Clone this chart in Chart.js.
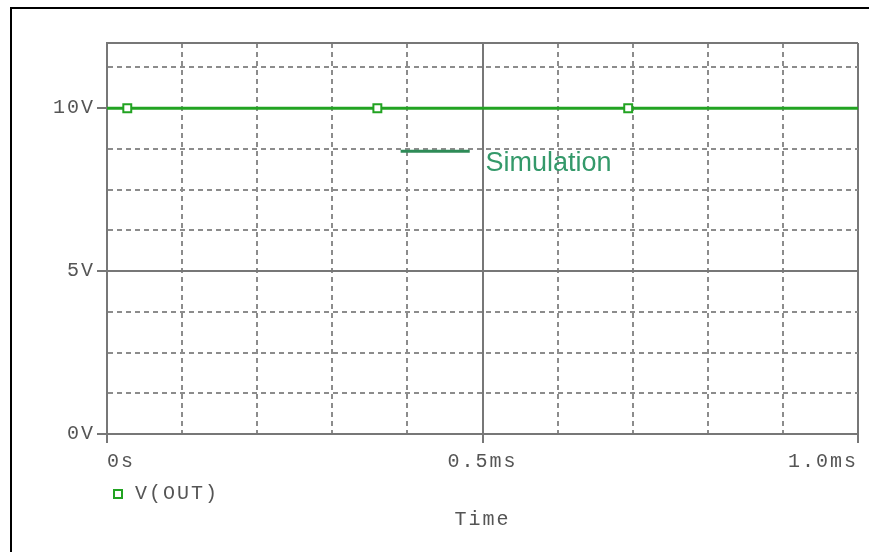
<!DOCTYPE html>
<html>
<head>
<meta charset="utf-8">
<script src="https://cdn.jsdelivr.net/npm/chart.js"></script>
<style>
  html, body { margin: 0; padding: 0; background: #fff; overflow: hidden; }
  #frame { position: absolute; left: 10px; top: 7px; width: 900px; height: 600px; border: 2px solid #000; }
  #chart { position: absolute; left: 0; top: 0; }
</style>
</head>
<body>
<div id="frame"></div>
<canvas id="chart" width="869" height="552"></canvas>
<script>
// trace V(OUT), time in ms
const lineTime = [0, 1.0];
const lineVolts = [10, 10];
const markerTime = [0.027, 0.36, 0.694];
const markerVolts = [10, 10, 10];

const xTicks = [0, 0.1, 0.2, 0.3, 0.4, 0.5, 0.6, 0.7, 0.8, 0.9, 1.0];
const xTickLabels = ['0s', '', '', '', '', '0.5ms', '', '', '', '', '1.0ms'];
const yTicks = [0, 1.25, 2.5, 3.75, 5, 6.25, 7.5, 8.75, 10, 11.25, 12];
const yTickLabels = ['0V', '', '', '', '5V', '', '', '', '10V', '', ''];

// "Simulation" note inside the plot
const noteLineX = [0.391, 0.483];
const noteLineY = 8.68;
const noteText = 'Simulation';
const noteTextX = 0.504;
const noteTextY = 8.06;

const green = '#22a322';
const mono = { family: '"Liberation Mono", "DejaVu Sans Mono", monospace', size: 20, weight: 'normal' };

const xSolid = i => xTickLabels[i] !== '';
const ySolid = i => yTickLabels[i] !== '' || i === yTicks.length - 1;

const spacing = {
  id: 'spacing',
  beforeUpdate(chart) { chart.ctx.letterSpacing = '2px'; },
  beforeDraw(chart) { chart.ctx.letterSpacing = '2px'; }
};

const note = {
  id: 'note',
  afterDatasetsDraw(chart) {
    const { ctx, scales: { x, y } } = chart;
    ctx.save();
    ctx.letterSpacing = '0px';
    ctx.strokeStyle = '#2e8b57';
    ctx.lineWidth = 3;
    ctx.beginPath();
    ctx.moveTo(x.getPixelForValue(noteLineX[0]), y.getPixelForValue(noteLineY));
    ctx.lineTo(x.getPixelForValue(noteLineX[1]), y.getPixelForValue(noteLineY));
    ctx.stroke();
    ctx.fillStyle = '#34996a';
    ctx.font = '27px "Liberation Sans", Arial, sans-serif';
    ctx.textAlign = 'left';
    ctx.textBaseline = 'alphabetic';
    ctx.fillText(noteText, x.getPixelForValue(noteTextX), y.getPixelForValue(noteTextY));
    ctx.restore();
  }
};

new Chart(document.getElementById('chart'), {
  type: 'line',
  data: {
    datasets: [
      {
        label: 'V(OUT)',
        data: markerTime.map((t, i) => ({ x: t, y: markerVolts[i] })),
        showLine: false,
        pointStyle: 'rect',
        pointRadius: 5.6,
        pointBorderWidth: 2,
        pointBorderColor: green,
        pointBackgroundColor: '#fff'
      },
      {
        label: 'line',
        data: lineTime.map((t, i) => ({ x: t, y: lineVolts[i] })),
        borderColor: green,
        borderWidth: 3,
        pointRadius: 0,
        fill: false
      }
    ]
  },
  options: {
    responsive: false,
    animation: false,
    layout: { padding: { left: 7, right: 11, top: 43, bottom: 0 } },
    scales: {
      x: {
        type: 'linear',
        min: 0,
        max: 1,
        afterBuildTicks: s => { s.ticks = xTicks.map(v => ({ value: v })); },
        afterFit: s => { s.height = 46; },
        ticks: {
          autoSkip: false,
          maxRotation: 0,
          align: 'inner',
          padding: 7,
          color: '#555',
          font: mono,
          callback: (v, i) => xTickLabels[i]
        },
        grid: {
          color: c => xSolid(c.index) ? '#777' : '#8c8c8c',
          lineWidth: 2,
          tickLength: 9,
          tickWidth: 2,
          tickColor: c => xTickLabels[c.index] ? '#777' : 'rgba(0,0,0,0)'
        },
        border: {
          color: '#777',
          width: 2,
          dash: c => (c.type === 'tick' && !xSolid(c.index)) ? [5, 4] : []
        }
      },
      y: {
        min: 0,
        max: 12,
        afterBuildTicks: s => { s.ticks = yTicks.map(v => ({ value: v })); },
        afterFit: s => { s.width = 100; },
        ticks: {
          autoSkip: false,
          padding: 2,
          color: '#555',
          font: mono,
          callback: (v, i) => yTickLabels[i]
        },
        grid: {
          color: c => ySolid(c.index) ? '#777' : '#8c8c8c',
          lineWidth: 2,
          tickLength: 10,
          tickWidth: 2,
          tickColor: c => yTickLabels[c.index] ? '#777' : 'rgba(0,0,0,0)'
        },
        border: {
          color: '#777',
          width: 2,
          dash: c => (c.type === 'tick' && !ySolid(c.index)) ? [5, 4] : []
        }
      }
    },
    plugins: {
      legend: {
        position: 'bottom',
        align: 'start',
        fullSize: false,
        labels: {
          usePointStyle: true,
          boxWidth: 14,
          boxHeight: 8,
          padding: 4,
          color: '#555',
          font: mono,
          filter: item => item.datasetIndex === 0
        }
      },
      title: {
        display: true,
        position: 'bottom',
        text: 'Time',
        fullSize: false,
        padding: { top: -6, bottom: 20 },
        color: '#555',
        font: mono
      },
      tooltip: { enabled: false }
    }
  },
  plugins: [spacing, note]
});
</script>
</body>
</html>
